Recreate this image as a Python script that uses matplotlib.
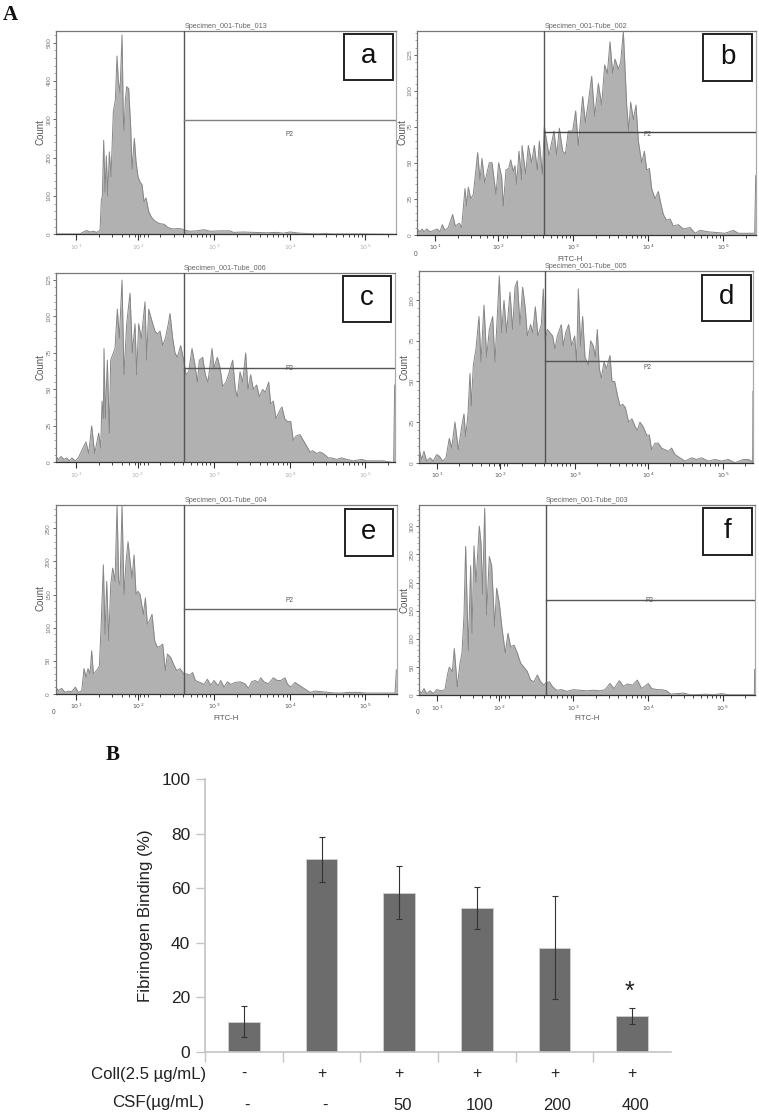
import math
import matplotlib
matplotlib.use("Agg")
import matplotlib.pyplot as plt
from matplotlib.patches import Rectangle

plt.rcParams['font.family'] = ['Liberation Sans', 'DejaVu Sans']
W, H = 759, 1116

# ---------- flow cytometry histograms (channel, count) ----------
a_channel = [168,228,240,250,260,270,280,290,300,304,307,311,315,319,323,328,333,340,346,351,355,360,366,370,372,376,380,386,392,396,403,408,414,421,426,432,438,446,454,464,478,493,503,518,533,546,551,570,590,612,630,660,690,700,730,760,800,830,850,870,900,925,950,975,1000,1040,1090,1187]
a_count = [1,1,1,6,10,6,8,5,10,90,100,245,110,205,100,215,150,320,350,465,400,370,520,300,270,350,385,380,280,170,250,190,150,135,130,85,95,60,45,35,28,26,18,14,15,14,11,8,9,12,8,9,9,5,6,5,4,5,3,6,3,2,1,2,1,1,1,0]

b_channel = [52,60,66,72,80,90,102,112,120,127,135,145,158,166,178,185,195,200,205,212,220,233,240,246,254,268,276,288,296,305,310,318,326,332,340,345,350,357,365,366,377,385,395,403,412,418,427,433,440,447,462,470,478,488,496,505,518,527,535,548,556,565,575,584,595,605,614,622,630,638,645,655,662,670,680,686,692,700,708,715,725,733,740,748,755,765,775,782,790,800,810,820,835,850,870,885,900,925,975,1000,1015,1060,1064,1067]
b_count = [4,2,4,2,4,2,3,4,2,7,3,5,14,6,8,5,32,20,33,25,28,57,38,53,36,50,50,28,50,40,20,45,46,52,44,48,35,58,38,62,42,62,50,62,45,65,42,75,65,55,72,55,74,58,56,72,72,86,62,96,78,92,110,82,105,90,118,112,134,112,122,115,120,141,90,72,92,80,90,65,50,58,45,46,32,25,30,22,14,10,11,6,7,4,5,1,3,2,1,3,1,1,1,41]

c_channel = [168,175,183,192,200,208,216,225,235,245,258,266,275,284,296,302,306,310,312,316,322,328,332,340,345,352,358,366,372,380,390,397,405,410,416,424,435,440,446,452,458,465,472,480,488,496,505,510,518,525,532,542,551,558,566,576,584,592,598,608,616,624,636,642,652,660,668,678,688,698,706,712,720,728,737,744,752,760,770,778,788,796,806,812,820,828,838,846,854,862,872,880,888,900,910,918,930,938,950,960,970,985,995,1010,1025,1040,1060,1085,1100,1150,1175,1181,1184]
c_count = [4,2,4,2,3,1,3,1,3,8,14,6,25,6,20,10,42,30,78,30,70,20,70,75,78,105,85,125,60,95,116,75,95,60,95,85,110,70,105,100,95,90,88,90,80,85,95,102,85,75,72,80,70,60,62,78,68,55,70,72,60,55,78,65,72,65,52,55,62,70,50,45,62,55,75,50,60,50,53,45,50,48,55,40,42,30,35,38,30,28,28,15,18,19,15,12,7,8,6,7,6,3,3,2,3,2,1,2,1,1,0,0,53]

d_channel = [58,65,72,80,90,100,110,118,128,138,148,155,165,175,185,192,197,204,210,214,220,228,237,243,252,260,268,278,285,298,305,312,320,330,338,345,352,360,368,376,382,392,398,406,414,424,430,436,442,450,458,465,472,484,490,497,506,515,524,530,535,542,548,555,565,572,580,586,592,598,604,612,620,630,636,644,652,660,668,676,686,696,706,712,720,730,740,748,755,765,775,785,795,805,815,825,840,855,875,890,905,925,945,965,985,1005,1030,1045,1055,1058,1059]
d_count = [8,2,7,1,3,1,5,4,1,3,15,9,25,8,22,30,16,30,55,35,60,70,90,62,97,65,82,90,62,115,80,100,80,105,82,108,112,85,108,95,78,85,80,96,78,85,107,75,82,80,78,70,78,85,72,80,85,72,78,62,107,72,90,65,60,75,72,65,82,58,52,62,58,66,50,50,42,35,36,34,25,27,22,20,25,22,17,17,8,12,12,9,8,7,9,5,3,1,3,2,3,1,2,1,2,0,2,2,1,0,44]

e_channel = [167,175,185,195,205,215,226,235,245,252,258,264,270,275,280,290,298,303,310,315,320,326,332,338,345,351,356,360,366,372,378,384,390,396,402,408,414,420,430,436,442,448,456,464,472,480,488,496,502,512,520,530,540,551,560,568,578,586,600,612,622,632,642,654,662,672,682,692,705,720,735,745,755,765,775,782,792,805,820,832,842,855,862,872,885,900,915,930,945,965,985,1005,1025,1045,1075,1100,1150,1185,1189]
e_count = [10,5,8,2,4,3,10,2,4,38,25,38,30,65,30,35,42,100,195,90,170,80,165,190,170,285,170,165,285,150,200,230,200,175,210,150,155,150,120,145,105,110,120,80,70,72,75,35,60,55,45,35,38,30,30,28,32,20,17,14,22,13,20,12,20,10,18,14,17,18,15,8,18,20,17,24,18,15,24,20,20,24,15,10,17,12,7,2,4,3,2,1,1,2,2,1,1,1,36]

f_channel = [58,65,72,80,90,100,110,125,135,142,148,157,163,172,180,186,192,197,205,212,216,222,228,233,238,243,248,254,260,268,275,284,290,298,306,316,324,332,342,352,362,372,382,392,402,412,422,432,437,448,458,470,485,500,520,540,560,580,600,615,630,642,658,670,682,698,712,725,745,755,772,785,800,812,830,850,870,890,915,940,965,985,1010,1040,1060,1063,1064]
f_count = [8,4,12,3,8,3,10,8,10,35,50,42,83,15,57,75,140,264,80,230,110,265,200,250,300,270,180,332,143,246,230,122,190,163,119,75,110,86,89,75,57,50,42,27,24,36,24,18,22,24,15,9,10,7,10,9,8,9,8,10,21,12,26,16,20,18,27,12,21,12,10,10,8,2,3,4,1,1,2,1,3,1,1,1,1,0,46]

panel_letters = ['a', 'b', 'c', 'd', 'e', 'f']
panel_titles = ['Specimen_001-Tube_013', 'Specimen_001-Tube_002', 'Specimen_001-Tube_006',
                'Specimen_001-Tube_005', 'Specimen_001-Tube_004', 'Specimen_001-Tube_003']
panel_channels = [a_channel, b_channel, c_channel, d_channel, e_channel, f_channel]
panel_counts = [a_count, b_count, c_count, d_count, e_count, f_count]
gate_channel = [551, 433, 551, 436, 551, 437]
gate_count = [297, 71, 65, 62.5, 128, 169]
count_ticks = [[0,100,200,300,400,500], [0,25,50,75,100,125], [0,25,50,75,100,125],
               [0,25,50,75,100], [0,50,100,150,200,250], [0,50,100,150,200,250,300]]
count_max = [531, 141.7, 130, 118, 285, 338]
decade_channels = [[228,413,643,870,1096], [105,295,520,745,970], [228,413,643,870,1096],
                   [112,300,525,745,970], [228,413,643,870,1096], [112,297,520,745,968]]
channel_limits = [(168,1187), (52,1067), (168,1185), (58,1060), (167,1190), (58,1065)]
decade_labels = ['$10^1$', '$10^2$', '$10^3$', '$10^4$', '$10^5$']

# ---------- bar chart ----------
bar_labels_coll = ['-', '+', '+', '+', '+', '+']
bar_labels_csf = ['-', '-', '50', '100', '200', '400']
binding = [11.1, 70.6, 58.4, 52.7, 38.2, 13.2]
binding_upper = [16.8, 79.0, 68.3, 60.5, 57.3, 16.3]
binding_lower = [5.5, 62.2, 48.7, 45.1, 19.4, 10.4]
binding_ticks = [0, 20, 40, 60, 80, 100]

# ---------- layout in pixels (left, top, right, bottom) ----------
panel_boxes = [(56, 30.7, 395.7, 234.3), (417.3, 30.7, 755.7, 234.7),
               (56, 272.7, 395, 462.3), (419.3, 271, 753.3, 462.7),
               (55.7, 505.3, 396.7, 693.7), (419.3, 504.7, 755, 695.3)]
inset_boxes = [(344, 34.3, 392.7, 80.3), (703.3, 34.3, 751.7, 80.7),
               (342.7, 276, 391.3, 322.3), (702, 274.7, 750.7, 321.3),
               (344.7, 509.3, 393.3, 556), (703.3, 508.3, 751.7, 555)]
count_label_xy = [(41, 132), (403, 132), (41, 367), (405, 367), (41, 598), (405, 600)]
p2_xy = [(289, 134), (648, 134), (289, 368), (648, 367.5), (290, 600.5), (649, 601)]
fitc_xy = [None, (570, 259.5), None, None, (226, 718), (587, 719)]
zero_xy = [None, (416, 254), None, None, (54, 712), (418, 713)]
hline_colors = ['#808080', '#444444', '#555555', '#555555', '#666666', '#555555']

fig = plt.figure(figsize=(W / 100, H / 100), dpi=100, facecolor='white')


def px_axes(box):
    l, t, r, b = box
    return fig.add_axes([l / W, 1 - b / H, (r - l) / W, (b - t) / H])


def px_text(x, y, s, **kw):
    kw.setdefault('ha', 'center')
    kw.setdefault('va', 'center')
    return fig.text(x / W, 1 - y / H, s, **kw)


for i in range(6):
    ax = px_axes(panel_boxes[i])
    ax.set_xlim(*channel_limits[i])
    ax.set_ylim(0, count_max[i])
    ax.fill_between(panel_channels[i], panel_counts[i], 0, color='#b1b1b1', lw=0, zorder=2)
    ax.plot(panel_channels[i], panel_counts[i], color='#868686', lw=0.7, zorder=3)
    ax.axvline(gate_channel[i], color='#555555', lw=1.0, zorder=4)
    ax.plot([gate_channel[i], channel_limits[i][1]], [gate_count[i]] * 2,
            color=hline_colors[i], lw=1.0, zorder=4)

    for side in ('top', 'left', 'right'):
        ax.spines[side].set_color('#777777')
        ax.spines[side].set_linewidth(0.9)
    ax.spines['right'].set_color('#aaaaaa')
    ax.spines['bottom'].set_color('#333333')
    ax.spines['bottom'].set_linewidth(0.9)

    majors = decade_channels[i]
    spacing = majors[3] - majors[2]
    minors = []
    for m in majors:
        for k in range(2, 10):
            c = m + math.log10(k) * spacing
            if c < channel_limits[i][1]:
                minors.append(c)
    ax.set_xticks(majors)
    ax.set_xticks(minors, minor=True)
    faint = i in (0, 2)
    ax.set_xticklabels(decade_labels, fontsize=4.5,
                       color='#b0b0b0' if faint else '#555555')
    ax.tick_params(axis='x', which='major', length=4, width=0.8, color='#333333', pad=2)
    ax.tick_params(axis='x', which='minor', length=2.5, width=0.7, color='#444444')

    step = count_ticks[i][1] / 5
    ax.set_yticks(count_ticks[i])
    ax.set_yticks([step * n for n in range(int(count_max[i] / step) + 1)], minor=True)
    ax.set_yticklabels([str(v) for v in count_ticks[i]], rotation=90, va='center',
                       fontsize=4.6, color='#777777')
    ax.tick_params(axis='y', which='major', length=2.5, width=0.7, color='#666666', pad=0.8)
    ax.tick_params(axis='y', which='minor', length=1.5, width=0.5, color='#888888')

    px_text((panel_boxes[i][0] + panel_boxes[i][2]) / 2, panel_boxes[i][1] - 4.5, panel_titles[i],
            fontsize=5.2, color='#666666')
    cx, cy = count_label_xy[i]
    px_text(cx, cy, 'Count', rotation=90, fontsize=7, color='#555555')
    px_text(*p2_xy[i], 'P2', fontsize=4.8, color='#555555')
    if fitc_xy[i]:
        px_text(*fitc_xy[i], 'FITC-H', fontsize=5.6, color='#555555')
    if zero_xy[i]:
        px_text(*zero_xy[i], '0', fontsize=4.8, color='#555555')

    l, t, r, b = inset_boxes[i]
    fig.add_artist(Rectangle((l / W, 1 - b / H), (r - l) / W, (b - t) / H, transform=fig.transFigure,
                             facecolor='white', edgecolor='#222222', lw=1.4, zorder=10))
    px_text((l + r) / 2, (t + b) / 2 - 1, panel_letters[i], fontsize=20, color='#111111', zorder=11)

px_text(10, 15, 'A', fontsize=15, fontweight='bold', family='Liberation Serif', color='#111111')
px_text(113, 755, 'B', fontsize=15, fontweight='bold', family='Liberation Serif', color='#111111')

# ---------- panel B ----------
bx = px_axes((205, 779.3, 671, 1052))
positions = list(range(6))
err_low = [v - l for v, l in zip(binding, binding_lower)]
err_high = [u - v for v, u in zip(binding, binding_upper)]
bx.bar(positions, binding, width=0.405, color='#6c6c6c', edgecolor='#d0d0d0', linewidth=0.6,
       yerr=[err_low, err_high], error_kw=dict(ecolor='#333333', elinewidth=0.8, capsize=2.2, capthick=0.8))
bx.set_xlim(-0.5, 5.5)
bx.set_ylim(0, 100)
bx.set_xticks([p - 0.5 for p in positions])
bx.set_xticklabels([])
bx.set_yticks(binding_ticks)
bx.set_yticklabels([str(v) for v in binding_ticks], fontsize=12.5, color='#222222')
bx.tick_params(axis='y', length=6.5, width=1, color='#c4c4c4', pad=4.2)
bx.tick_params(axis='x', length=7, width=1, color='#c4c4c4')
for side in ('top', 'right'):
    bx.spines[side].set_visible(False)
for side in ('left', 'bottom'):
    bx.spines[side].set_color('#c4c4c4')
    bx.spines[side].set_linewidth(1.2)
bx.set_ylabel('Fibrinogen Binding (%)', fontsize=12.2, color='#222222', labelpad=6)
bx.text(5 - 0.03, 22, '*', fontsize=18, ha='center', va='center', color='#222222')

for p, coll, csf in zip(positions, bar_labels_coll, bar_labels_csf):
    px_x = 205 + (p + 0.5) * 77.67
    px_text(px_x, 1073.5, coll, fontsize=11.5, color='#222222')
    px_text(px_x + 3, 1105, csf, fontsize=12, color='#222222')
px_text(206, 1074, 'Coll(2.5 µg/mL)', ha='right', fontsize=12.1, color='#222222')
px_text(204, 1103, 'CSF(µg/mL)', ha='right', fontsize=12.2, color='#222222')

fig.savefig('out.png', dpi=100)
